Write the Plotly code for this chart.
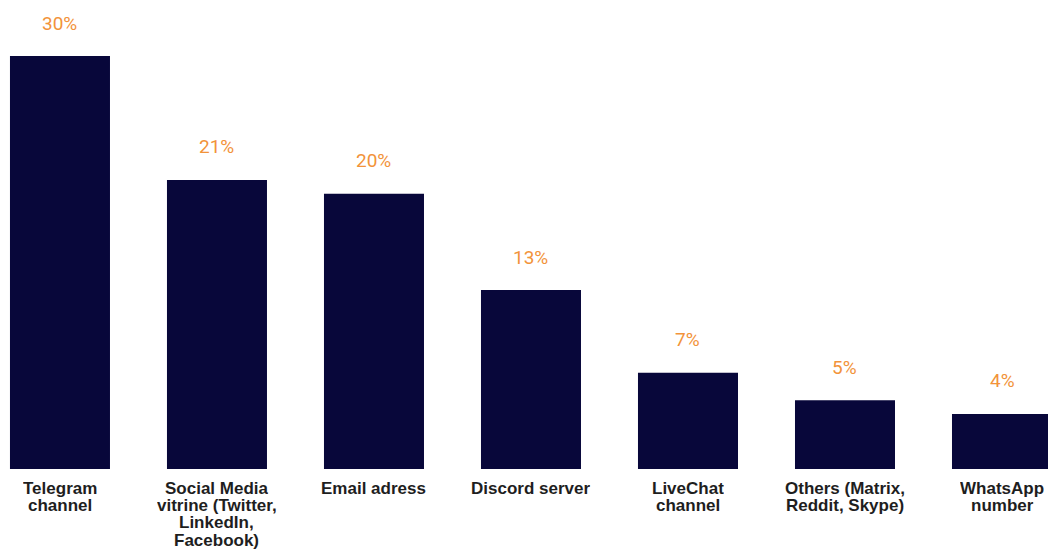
import plotly.graph_objects as go

categories = ["Telegram channel", "Social Media vitrine (Twitter, LinkedIn, Facebook)",
              "Email adress", "Discord server", "LiveChat channel",
              "Others (Matrix, Reddit, Skype)", "WhatsApp number"]
tick_lines = [["Telegram", "channel"],
              ["Social Media", "vitrine (Twitter,", "LinkedIn,", "Facebook)"],
              ["Email adress"],
              ["Discord server"],
              ["LiveChat", "channel"],
              ["Others (Matrix,", "Reddit, Skype)"],
              ["WhatsApp", "number"]]
values = [30, 21, 20, 13, 7, 5, 4]
labels = ["30%", "21%", "20%", "13%", "7%", "5%", "4%"]

fig = go.Figure()
fig.add_trace(go.Bar(x=categories, y=values, marker=dict(color="#08073a", line=dict(width=0)),
                     hoverinfo="skip"))

for c, v, t in zip(categories, values, labels):
    fig.add_annotation(x=c, y=v, text=t, showarrow=False, yanchor="middle", yshift=33,
                       font=dict(family="Roboto", size=19, color="#f2933a"))

for c, lines in zip(categories, tick_lines):
    for i, ln in enumerate(lines):
        fig.add_annotation(x=c, y=0, text="<b>" + ln + "</b>", showarrow=False,
                           yanchor="middle", yshift=-(19 + 17.4 * i),
                           height=17, borderpad=0,
                           font=dict(family="Liberation Sans", size=17, color="#1e1e1e"))

fig.update_layout(
    width=1048, height=551,
    margin=dict(l=0, r=0, t=0, b=82),
    paper_bgcolor="white", plot_bgcolor="white",
    bargap=0.363, showlegend=False,
    xaxis=dict(type="category", range=[-0.382, 6.293], showgrid=False, zeroline=False,
               showline=False, automargin=False, showticklabels=False),
    yaxis=dict(range=[0, 34.07], visible=False, fixedrange=True),
)

fig.write_html("out.html")
